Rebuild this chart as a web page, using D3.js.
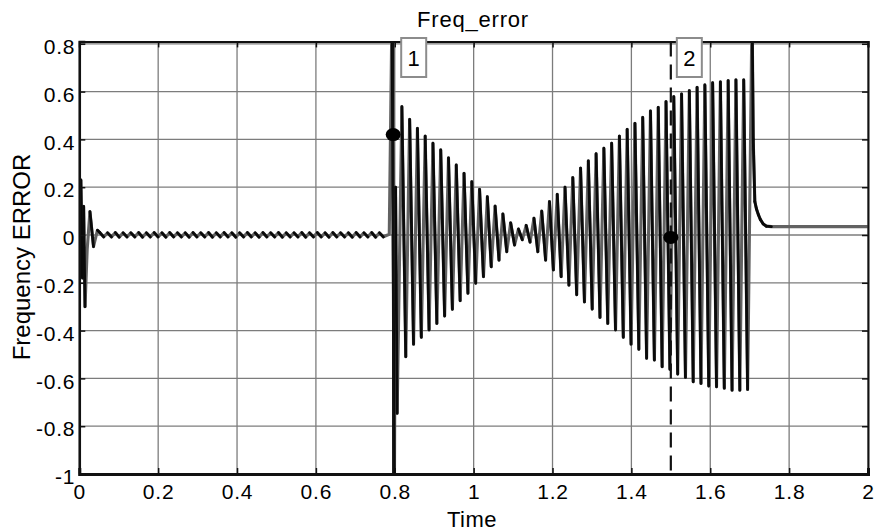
<!DOCTYPE html>
<html><head><meta charset="utf-8">
<script src="https://cdn.jsdelivr.net/npm/d3@7"></script>
<style>body{margin:0;background:#fff}</style>
</head><body><svg id="c" width="883" height="532"></svg>
<script>
// ---------- data ----------
const xTicks = [0, 0.2, 0.4, 0.6, 0.8, 1, 1.2, 1.4, 1.6, 1.8, 2];
const yTicks = [-1, -0.8, -0.6, -0.4, -0.2, 0, 0.2, 0.4, 0.6, 0.8];

// initial transient
const startTimes  = [0, 0.004, 0.008, 0.011, 0.0145, 0.02, 0.027, 0.036, 0.046];
const startValues = [0, 0.23, -0.18, 0.12, -0.30, -0.06, 0.098, -0.049, 0.02];

// small steady ripple (one peak and one trough per cycle)
const rippleStart = 0.052, ripplePeriod = 0.0197;
const ripplePeaks   = [0.010,0.009,0.010,0.009,0.009,0.010,0.009,0.010,0.009,0.010,0.009,0.009,0.010,0.009,0.010,0.009,0.010,0.009,0.009,0.010,0.009,0.010,0.009,0.010,0.009,0.009,0.010,0.009,0.010,0.009,0.010,0.009,0.009,0.010,0.009,0.010,0.009];
const rippleTroughs = [-0.008,-0.008,-0.009,-0.008,-0.008,-0.009,-0.008,-0.008,-0.009,-0.008,-0.008,-0.009,-0.008,-0.008,-0.009,-0.008,-0.008,-0.009,-0.008,-0.008,-0.009,-0.008,-0.008,-0.009,-0.008,-0.008,-0.009,-0.008,-0.008,-0.009,-0.008,-0.008,-0.009,-0.008,-0.008,-0.009,-0.008];

// disturbance at event 1
const eventTimes  = [0.786, 0.793, 0.799, 0.802, 0.806];
const eventValues = [0.003, 0.95, -1.10, 0.20, -0.746];

// 50 Hz oscillation: peaks and troughs per cycle
const oscStart = 0.818, oscPeriod = 0.0197;
const oscPeaks = [0.537,0.484,0.446,0.414,0.384,0.356,0.323,0.293,0.258,0.223,
                  0.191,0.160,0.121,0.088,0.051,0.025,0.040,0.070,0.100,0.140,
                  0.170,0.200,0.240,0.280,0.310,0.340,0.363,0.384,0.414,0.442,
                  0.467,0.492,0.519,0.534,0.558,0.579,0.590,0.604,0.618,0.628,
                  0.637,0.641,0.646,0.649,0.649];
const oscTroughs = [-0.509,-0.457,-0.428,-0.397,-0.370,-0.339,-0.311,-0.275,-0.244,-0.202,
                    -0.174,-0.133,-0.105,-0.070,-0.042,-0.020,-0.030,-0.070,-0.105,-0.146,
                    -0.174,-0.210,-0.250,-0.280,-0.310,-0.345,-0.370,-0.397,-0.428,-0.457,
                    -0.478,-0.516,-0.523,-0.551,-0.562,-0.582,-0.596,-0.614,-0.621,-0.632,
                    -0.635,-0.641,-0.649,-0.649,-0.646];

// final spike and settling
const tailTimes  = [1.706, 1.709, 1.713, 1.717, 1.722, 1.727, 1.734, 1.742, 1.755, 2.0];
const tailValues = [0.95, 0.40, 0.14, 0.11, 0.085, 0.065, 0.047, 0.037, 0.035, 0.035];

// cursors
const markerTimes  = [0.796, 1.5];
const markerValues = [0.42, -0.01];
const markerLabels = ["1", "2"];

// ---------- chart ----------
const m = {left: 79.3, right: 868, top: 41.4, bottom: 474};
const x = d3.scaleLinear().domain([0, 2]).range([m.left, m.right]);
const y = d3.scaleLinear().domain([-1, 0.81]).range([m.bottom, m.top]);
const svg = d3.select("#c");
const font = "'Liberation Sans', Arial, sans-serif";

svg.append("defs").append("clipPath").attr("id", "clip")
  .append("rect").attr("x", m.left).attr("y", m.top)
  .attr("width", m.right - m.left).attr("height", m.bottom - m.top);

// grid
const grid = svg.append("g").attr("stroke", "#7c7c7c").attr("stroke-width", 1.3);
grid.selectAll(".gx").data(xTicks).join("line")
  .attr("x1", d => x(d)).attr("x2", d => x(d)).attr("y1", m.top).attr("y2", m.bottom);
grid.selectAll(".gy").data(yTicks).join("line")
  .attr("y1", d => y(d)).attr("y2", d => y(d)).attr("x1", m.left).attr("x2", m.right);

// build signal
const pts = [];
startTimes.forEach((t, i) => pts.push([t, startValues[i]]));
ripplePeaks.forEach((p, i) => {
  const t = rippleStart + i * ripplePeriod;
  pts.push([t, p]);
  pts.push([t + ripplePeriod / 2, rippleTroughs[i]]);
});
eventTimes.forEach((t, i) => pts.push([t, eventValues[i]]));
oscPeaks.forEach((p, k) => {
  const t = oscStart + k * oscPeriod;
  pts.push([t, p]);
  pts.push([t + 0.0099, oscTroughs[k]]);
});
tailTimes.forEach((t, i) => pts.push([t, tailValues[i]]));

const line = d3.line().x(d => x(d[0])).y(d => y(d[1]));
const sig = svg.append("g").attr("clip-path", "url(#clip)");
sig.append("path").datum(pts).attr("d", line)
  .attr("fill", "none").attr("stroke", "#626262").attr("stroke-width", 3.1)
  .attr("stroke-linejoin", "round");
// descending strokes in black
const desc = [];
for (let i = 0; i < pts.length - 1; i++) if (pts[i + 1][1] < pts[i][1]) desc.push([pts[i], pts[i + 1]]);
sig.selectAll(".dseg").data(desc).join("path").attr("d", line)
  .attr("fill", "none").attr("stroke", "#0a0a0a").attr("stroke-width", 2.8)
  .attr("stroke-linecap", "round");

// cursors
markerTimes.forEach((t, i) => {
  svg.append("line").attr("x1", x(t)).attr("x2", x(t)).attr("y1", m.top).attr("y2", m.bottom)
    .attr("stroke", "#111").attr("stroke-width", 2.2)
    .attr("stroke-dasharray", i === 0 ? null : "15,8");
});

// axes frame with inward ticks
const fmt = d => String(d);
const axB = svg.append("g").attr("transform", `translate(0,${m.bottom})`)
  .call(d3.axisBottom(x).tickValues(xTicks).tickFormat(fmt).tickSize(-6).tickPadding(10));
const axL = svg.append("g").attr("transform", `translate(${m.left},0)`)
  .call(d3.axisLeft(y).tickValues(yTicks).tickFormat(fmt).tickSize(-6).tickPadding(4));
const axT = svg.append("g").attr("transform", `translate(0,${m.top})`)
  .call(d3.axisTop(x).tickValues(xTicks).tickFormat("").tickSize(-6));
const axR = svg.append("g").attr("transform", `translate(${m.right},0)`)
  .call(d3.axisRight(y).tickValues(yTicks).tickFormat("").tickSize(-6));
[axB, axL, axT, axR].forEach(a => {
  a.select(".domain").attr("stroke", "#111").attr("stroke-width", 2);
  a.selectAll(".tick line").attr("stroke", "#111").attr("stroke-width", 1.5);
  a.selectAll("text").attr("font-family", font).attr("font-size", 21)
    .attr("letter-spacing", "0.8px").attr("fill", "#000");
});
axB.select(".domain").attr("stroke-width", 3);
axL.select(".domain").attr("stroke-width", 2.5);
axL.selectAll("text").attr("dy", "0.46em");
axB.selectAll("text").attr("dy", "0.71em");

// marker dots and labels
markerTimes.forEach((t, i) => {
  svg.append("ellipse").attr("cx", x(t)).attr("cy", y(markerValues[i]))
    .attr("rx", 7.5).attr("ry", 6.5).attr("fill", "#000");
  const bx = x(t) + (i === 0 ? 8 : 6);
  svg.append("rect").attr("x", bx).attr("y", 38).attr("width", 25).attr("height", 39)
    .attr("fill", "#fff").attr("stroke", "#8c8c8c").attr("stroke-width", 2);
  svg.append("text").attr("x", bx + 12.5).attr("y", 66).attr("text-anchor", "middle")
    .attr("font-family", font).attr("font-size", 22).text(markerLabels[i]);
});

// titles
svg.append("text").attr("x", 473).attr("y", 27).attr("text-anchor", "middle")
  .attr("font-family", font).attr("font-size", 22).attr("letter-spacing", "0.8px").text("Freq_error");
svg.append("text").attr("x", 472).attr("y", 527).attr("text-anchor", "middle")
  .attr("font-family", font).attr("font-size", 22).attr("letter-spacing", "0.5px").text("Time");
svg.append("text").attr("transform", "translate(30,257) rotate(-90)").attr("text-anchor", "middle")
  .attr("font-family", font).attr("font-size", 24).text("Frequency ERROR");
</script></body></html>
